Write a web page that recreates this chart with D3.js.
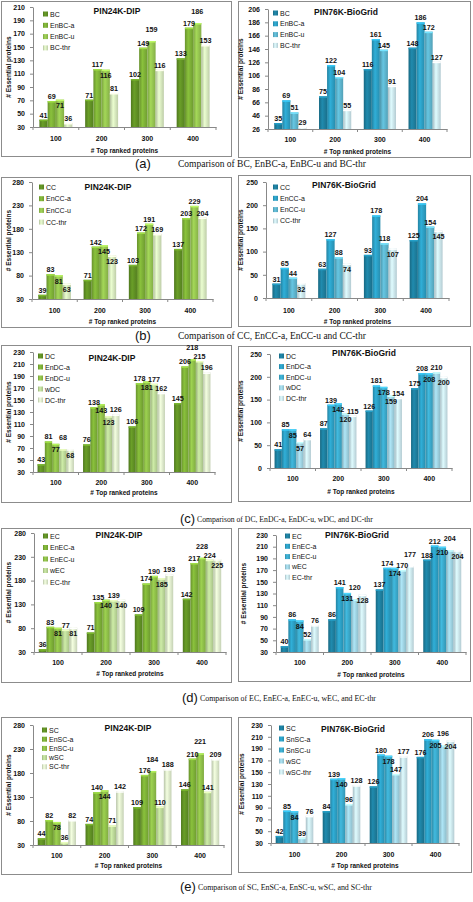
<!DOCTYPE html>
<html><head><meta charset="utf-8">
<script src="https://cdn.jsdelivr.net/npm/d3@7"></script>
<style>body{margin:0;background:#fff}svg{display:block}</style>
</head><body>
<svg id="c" width="473" height="902"></svg>
<script>
const categories = ["100","200","300","400"];

// (a)
const aDipSeries = ["BC","EnBC-a","EnBC-u","BC-thr"];
const aDipValues = [[41,71,102,133],[69,117,149,179],[71,116,159,186],[36,81,116,153]];
const aDipTicks = [30,50,70,90,110,130,150,170,190,210];
const aBioSeries = ["BC","EnBC-a","EnBC-u","BC-thr"];
const aBioValues = [[35,75,116,148],[69,122,161,186],[51,104,145,172],[29,55,91,127]];
const aBioTicks = [26,46,66,86,106,126,146,166,186,206];
// (b)
const bDipSeries = ["CC","EnCC-a","EnCC-u","CC-thr"];
const bDipValues = [[39,71,103,137],[83,142,172,203],[81,145,191,229],[63,123,169,204]];
const bDipTicks = [30,80,130,180,230,280];
const bBioSeries = ["CC","EnCC-a","EnCC-u","CC-thr"];
const bBioValues = [[31,63,93,125],[65,127,178,204],[44,88,118,154],[32,74,107,145]];
const bBioTicks = [0,50,100,150,200,250];
// (c)
const cDipSeries = ["DC","EnDC-a","EnDC-u","wDC","DC-thr"];
const cDipValues = [[43,76,106,145],[81,138,178,206],[77,143,181,218],[68,123,177,215],[68,126,162,196]];
const cDipTicks = [30,50,70,90,110,130,150,170,190,210,230];
const cBioSeries = ["DC","EnDC-a","EnDC-u","wDC","DC-thr"];
const cBioValues = [[41,87,126,175],[85,139,181,208],[85,142,178,208],[57,120,159,210],[64,115,154,200]];
const cBioTicks = [0,50,100,150,200,250];
// (d)
const dDipSeries = ["EC","EnEC-a","EnEC-u","wEC","EC-thr"];
const dDipValues = [[36,71,109,142],[83,135,174,217],[81,140,190,228],[77,139,185,224],[81,140,193,225]];
const dDipTicks = [30,80,130,180,230,280];
const dBioSeries = ["EC","EnEC-a","EnEC-u","wEC","EC-thr"];
const dBioValues = [[40,86,137,188],[86,141,174,212],[84,131,174,210],[52,120,170,204],[76,128,177,204]];
const dBioTicks = [30,50,70,90,110,130,150,170,190,210,230];
// (e)
const eDipSeries = ["SC","EnSC-a","EnSC-u","wSC","SC-thr"];
const eDipValues = [[44,74,109,146],[82,140,176,210],[78,144,184,221],[36,71,110,141],[82,142,188,209]];
const eDipTicks = [30,80,130,180,230,280];
const eBioSeries = ["SC","SnSC-a","SnSC-u","wSC","wSC-thr"];
const eBioValues = [[42,84,126,176],[85,139,180,206],[84,140,178,205],[39,96,147,196],[76,128,177,204]];
const eBioTicks = [30,50,70,90,110,130,150,170,190,210,230];

const titles = ["PIN24K-DIP","PIN76K-BioGrid"];
const captionLetters = ["(a)","(b)","(c)","(d)","(e)"];
const captionTexts = [
  "Comparison of BC, EnBC-a, EnBC-u and BC-thr",
  "Comparison of CC, EnCC-a, EnCC-u and CC-thr",
  "Comparison of DC, EnDC-a, EnDC-u, wDC, and DC-thr",
  "Comparison of EC, EnEC-a, EnEC-u, wEC, and EC-thr",
  "Comparison of SC, EnSC-a,  EnSC-u, wSC, and SC-thr"
];

const greens4 = ["#5f8f24","#7cae36","#93c24f","#d3e4bb"];
const greens5 = ["#5f8f24","#7cae36","#8dbd48","#b9d596","#dbe9c9"];
const blues4 = ["#1d7d9c","#2b9dc2","#5cb2cb","#c8e2ea"];
const blues5 = ["#1d7d9c","#2b9dc2","#3aa7c8","#9ccfde","#c8e2ea"];

const panels = [
 {series:aDipSeries, values:aDipValues, ticks:aDipTicks, title:titles[0], colors:greens4,
  box:[1,1,230,155], plot:[33,216,7,127], tpos:[117,11], leg:[43,14,11.3], catY:138, xtY:150, ytX:8},
 {series:aBioSeries, values:aBioValues, ticks:aBioTicks, title:titles[1], colors:blues4,
  box:[238,1,232,156], plot:[268,447,9,129], tpos:[346,12], leg:[273,13,10.8], catY:139, xtY:151, ytX:240},
 {series:bDipSeries, values:bDipValues, ticks:bDipTicks, title:titles[0], colors:greens4,
  box:[1,177,230,150], plot:[32,213,182,299], tpos:[108,187], leg:[39,187,11.7], catY:310, xtY:321, ytX:8},
 {series:bBioSeries, values:bBioValues, ticks:bBioTicks, title:titles[1], colors:blues4,
  box:[238,175,232,151], plot:[266,449,182,298], tpos:[344,185], leg:[273,187,11.3], catY:310, xtY:321, ytX:240},
 {series:cDipSeries, values:cDipValues, ticks:cDipTicks, title:titles[0], colors:greens5,
  box:[1,345,230,157], plot:[33,215,352,472], tpos:[112,358], leg:[38,356,11], catY:482, xtY:492, ytX:8},
 {series:cBioSeries, values:cBioValues, ticks:cBioTicks, title:titles[1], colors:blues5,
  box:[238,346,232,155], plot:[270,452,354,468], tpos:[364,353], leg:[279,356,10.6], catY:478, xtY:491, ytX:240},
 {series:dDipSeries, values:dDipValues, ticks:dDipTicks, title:titles[0], colors:greens5,
  box:[1,528,230,154], plot:[34,226,533,652], tpos:[119,535], leg:[43,536,11.5], catY:662, xtY:673, ytX:8},
 {series:dBioSeries, values:dBioValues, ticks:dBioTicks, title:titles[1], colors:blues5,
  box:[238,528,232,153], plot:[276,466,535,652], tpos:[357,535], leg:[285,536,10.3], catY:662, xtY:674, ytX:243},
 {series:eDipSeries, values:eDipValues, ticks:eDipTicks, title:titles[0], colors:greens5,
  box:[1,717,230,157], plot:[33,224,725,845], tpos:[128,728], leg:[42,730,9.2], catY:855, xtY:865, ytX:8},
 {series:eBioSeries, values:eBioValues, ticks:eBioTicks, title:titles[1], colors:blues5,
  box:[238,717,233,155], plot:[271,459,725,843], tpos:[353,729], leg:[279,728,11], catY:854, xtY:865, ytX:241}
];

const captions = [
 {lx:135, ly:168, tx:178, ty:167, fs:13, tfs:9.5},
 {lx:135, ly:340, tx:178, ty:339, fs:13, tfs:9.5},
 {lx:180, ly:523, tx:197, ty:522, fs:13, tfs:7.7},
 {lx:182, ly:702, tx:200, ty:701, fs:13, tfs:7.9},
 {lx:180, ly:891, tx:198, ty:890, fs:13, tfs:7.9}
];

const svg = d3.select("#c");
const defs = svg.append("defs");
let gid = 0;
const gradCache = {};
function grad(color){
  if (gradCache[color]) return gradCache[color];
  const id = "g" + (gid++);
  const c = d3.color(color);
  const g = defs.append("linearGradient").attr("id", id).attr("x1",0).attr("x2",1).attr("y1",0).attr("y2",0);
  g.append("stop").attr("offset","0%").attr("stop-color", c.darker(0.5));
  g.append("stop").attr("offset","40%").attr("stop-color", c.brighter(0.3));
  g.append("stop").attr("offset","100%").attr("stop-color", c.darker(0.3));
  gradCache[color] = `url(#${id})`;
  return gradCache[color];
}
const FONT = "'Liberation Sans', Arial, sans-serif";

function drawPanel(p){
  const g = svg.append("g");
  g.append("rect").attr("x", p.box[0]+0.5).attr("y", p.box[1]+0.5)
    .attr("width", p.box[2]).attr("height", p.box[3])
    .attr("fill","#fff").attr("stroke","#8c8c8c").attr("stroke-width",1);

  const y = d3.scaleLinear().domain([p.ticks[0], p.ticks[p.ticks.length-1]]).range([p.plot[3], p.plot[2]]);
  const n = p.series.length;
  const pad = n === 4 ? 0.28 : 0.2;
  const x0 = d3.scaleBand().domain(categories).range([p.plot[0], p.plot[1]]).paddingInner(pad).paddingOuter(pad/2);
  const x1 = d3.scaleBand().domain(d3.range(n)).range([0, x0.bandwidth()]);

  // y axis
  const ya = g.append("g").attr("transform", `translate(${p.plot[0]},0)`)
    .call(d3.axisLeft(y).tickValues(p.ticks).tickSize(3).tickSizeOuter(0).tickPadding(5));
  ya.select(".domain").attr("stroke","#888");
  ya.selectAll(".tick line").attr("stroke","#888");
  ya.selectAll("text").attr("font-family", FONT).attr("font-size", 7).attr("font-weight","bold").attr("fill","#111");

  // x axis
  const xa = g.append("g").attr("transform", `translate(0,${p.plot[3]})`)
    .call(d3.axisBottom(x0).tickSize(0).tickSizeOuter(0).tickPadding(0));
  xa.select(".domain").attr("stroke","#888");
  xa.selectAll("text").remove();
  const step = x0.step();
  d3.range(categories.length + 1).forEach(i => {
    const xx = p.plot[0] + i * step;
    g.append("line").attr("x1", xx).attr("x2", xx).attr("y1", p.plot[3]).attr("y2", p.plot[3] + 3).attr("stroke","#888");
  });
  g.selectAll(".cat").data(categories).enter().append("text")
    .attr("x", d => x0(d) + x0.bandwidth()/2).attr("y", p.catY + 2.5)
    .attr("text-anchor","middle").attr("font-family", FONT).attr("font-size", 7).attr("font-weight","bold").attr("fill","#111")
    .text(d => d);

  // bars
  const bars = g.append("g");
  p.values.forEach((vals, si) => {
    vals.forEach((v, ci) => {
      const bx = x0(categories[ci]) + x1(si);
      const by = y(v);
      const bw = x1.bandwidth();
      bars.append("rect").attr("x", bx).attr("y", by).attr("width", bw).attr("height", y(p.ticks[0]) - by)
        .attr("fill", grad(p.colors[si]));
      bars.append("rect").attr("x", bx).attr("y", by).attr("width", bw).attr("height", 1.5)
        .attr("fill", d3.color(p.colors[si]).brighter(0.7));
    });
  });

  // data labels with simple collision avoidance
  const lg = g.append("g");
  categories.forEach((cat, ci) => {
    const placed = [];
    p.values.forEach((vals, si) => {
      const v = vals[ci];
      const cx = x0(cat) + x1(si) + x1.bandwidth()/2;
      const t = lg.append("text").attr("x", cx).attr("text-anchor","middle")
        .attr("font-family", FONT).attr("font-size", 7.2).attr("font-weight","bold").attr("fill","#111").text(v);
      const w = t.node().getComputedTextLength();
      const top = y(v);
      const cands = [top - 2, top + 8.5, top - 9, top + 16, top - 16];
      let ty = cands[0];
      for (const c of cands) {
        const hit = placed.some(q => Math.abs(q.x - cx) < (q.w + w)/2 + 0.3 && Math.abs(q.y - c) < 7.2);
        if (!hit) { ty = c; break; }
      }
      t.attr("y", ty);
      placed.push({x: cx, y: ty, w: w});
    });
  });

  // title
  g.append("text").attr("x", p.tpos[0]).attr("y", p.tpos[1] + 3).attr("text-anchor","middle")
    .attr("font-family", FONT).attr("font-size", 8.5).attr("font-weight","bold").attr("fill","#111").text(p.title);

  // legend
  p.series.forEach((s, si) => {
    const ly = p.leg[1] + si * p.leg[2];
    g.append("rect").attr("x", p.leg[0]).attr("y", ly - 2.5).attr("width", 5).attr("height", 5).attr("fill", grad(p.colors[si]));
    g.append("text").attr("x", p.leg[0] + 7).attr("y", ly + 2.5)
      .attr("font-family", FONT).attr("font-size", 7).attr("fill","#111").text(s);
  });

  // axis titles
  g.append("text").attr("x", (p.plot[0] + p.plot[1]) / 2).attr("y", p.xtY + 2.5).attr("text-anchor","middle")
    .attr("font-family", FONT).attr("font-size", 6.5).attr("font-weight","bold").attr("fill","#111").text("# Top ranked proteins");
  const my = (p.plot[2] + p.plot[3]) / 2;
  g.append("text").attr("transform", `translate(${p.ytX + 2.5},${my}) rotate(-90)`).attr("text-anchor","middle")
    .attr("font-family", FONT).attr("font-size", 6.5).attr("font-weight","bold").attr("fill","#111").text("# Essential proteins");
}

panels.forEach(drawPanel);

captions.forEach((c, i) => {
  svg.append("text").attr("x", c.lx).attr("y", c.ly).attr("font-family", FONT).attr("font-size", c.fs).attr("fill","#111").text(captionLetters[i]);
  svg.append("text").attr("x", c.tx).attr("y", c.ty).attr("font-family", "'Liberation Serif', 'Times New Roman', serif")
    .attr("font-size", c.tfs).attr("fill","#111").text(captionTexts[i]);
});
</script>
</body></html>
